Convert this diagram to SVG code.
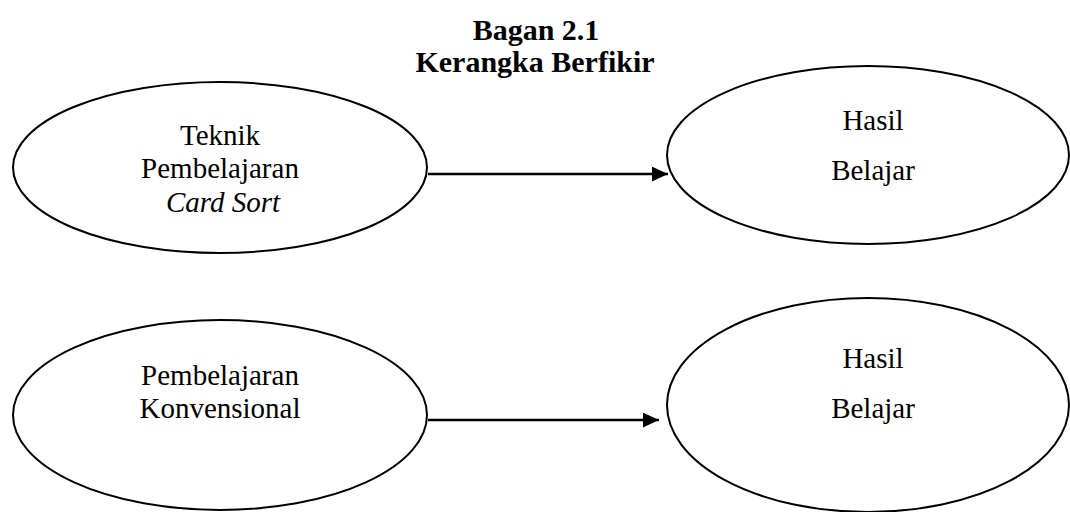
<svg xmlns="http://www.w3.org/2000/svg" width="1070" height="512" viewBox="0 0 1070 512">
<style>
.bg{fill:#fff}
.node ellipse{fill:#fff;stroke:#000;stroke-width:2}
.t{font-family:"Liberation Serif","Times New Roman",serif;font-size:29px;fill:#000;text-anchor:middle}
.title{font-family:"Liberation Serif","Times New Roman",serif;font-size:30px;font-weight:bold;fill:#000;text-anchor:middle}
.conn line{stroke:#000;stroke-width:2.5}
</style>
<defs>
<marker id="arr" markerWidth="7" markerHeight="7" refX="6.5" refY="3" orient="auto" markerUnits="strokeWidth">
<path d="M0,0 L6.5,3 L0,6 Z" fill="#000"/>
</marker>
</defs>
<rect class="bg" x="0" y="0" width="1070" height="512"/>
<g id="title">
<text class="title" x="536" y="40">Bagan 2.1</text>
<text class="title" x="535" y="72">Kerangka Berfikir</text>
</g>
<g id="node-teknik" class="node">
<ellipse cx="220" cy="167.5" rx="207" ry="85.5"/>
<text class="t" x="220" y="145">Teknik</text>
<text class="t" x="220" y="178">Pembelajaran</text>
<text class="t" x="223" y="212" font-style="italic">Card Sort</text>
</g>
<g id="node-hasil1" class="node">
<ellipse cx="868" cy="155" rx="201" ry="89"/>
<text class="t" x="873" y="130">Hasil</text>
<text class="t" x="873" y="180">Belajar</text>
</g>
<g id="node-konvensional" class="node">
<ellipse cx="220" cy="415" rx="207" ry="95"/>
<text class="t" x="220" y="385">Pembelajaran</text>
<text class="t" x="220" y="418">Konvensional</text>
</g>
<g id="node-hasil2" class="node">
<ellipse cx="868" cy="405" rx="201" ry="107"/>
<text class="t" x="873" y="368">Hasil</text>
<text class="t" x="873" y="418">Belajar</text>
</g>
<g id="connectors" class="conn">
<line x1="428" y1="174" x2="668" y2="174" marker-end="url(#arr)"/>
<line x1="428" y1="420" x2="659" y2="420" marker-end="url(#arr)"/>
</g>
</svg>
